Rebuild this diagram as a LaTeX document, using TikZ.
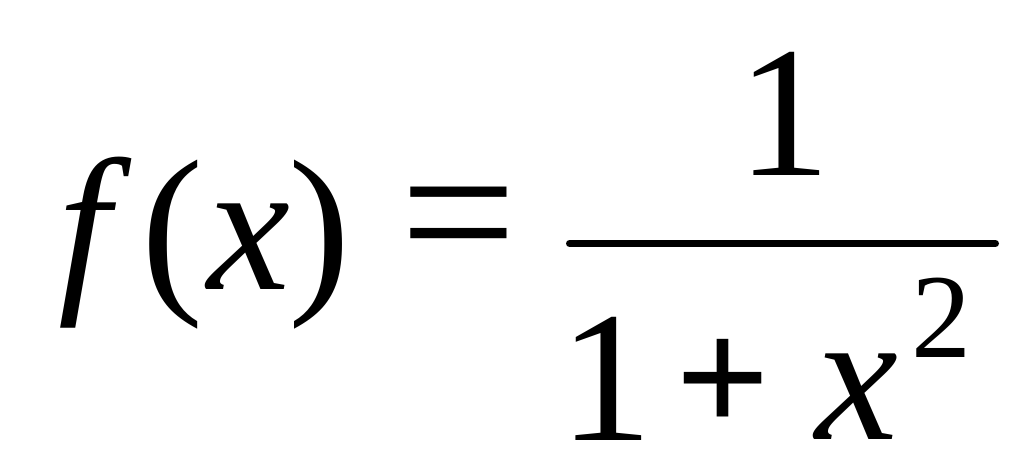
\documentclass[tikz,border=0pt]{standalone}
\usepackage{fontspec}
\setmainfont{Liberation Serif}
\usepackage{tikz}

\tikzset{
  glyph/.style={inner sep=0pt, anchor=center, font=\fontsize{140}{140}\selectfont},
  small glyph/.style={inner sep=0pt, anchor=center, font=\fontsize{90}{90}\selectfont},
  fracbar/.style={line width=5.25pt, line cap=round}
}

\begin{document}
\begin{tikzpicture}[x=0.75pt,y=0.75pt,yscale=-1,xscale=1]
\useasboundingbox (0,0) rectangle (1024,473);

% left side
\node [glyph] (f) at (84,242.5) {\itshape f};
\node [glyph] (lpar) at (172.5,244.5) {(};
\node [glyph] (x) at (248.5,246.5) {\itshape x};
\node [glyph] (rpar) at (320,244.5) {)};
\node [glyph,font=\fontsize{155}{155}\selectfont] (eq) at (459,234.5) {=};

% fraction bar
\coordinate (barL) at (569.5,243.5);
\coordinate (barR) at (995.5,243.5);
\draw [fracbar] (barL) -- (barR);

% numerator
\node [glyph] (num) at (784,114) {1};

% denominator
\node [glyph] (one) at (606,378.5) {1};
\node [glyph,font=\fontsize{125}{125}\selectfont\bfseries] (plus) at (722.5,386) {+};
\node [glyph] (xx) at (857,396.5) {\itshape x};
\node [small glyph] (sq) at (941,317.5) {2};
\end{tikzpicture}
\end{document}
